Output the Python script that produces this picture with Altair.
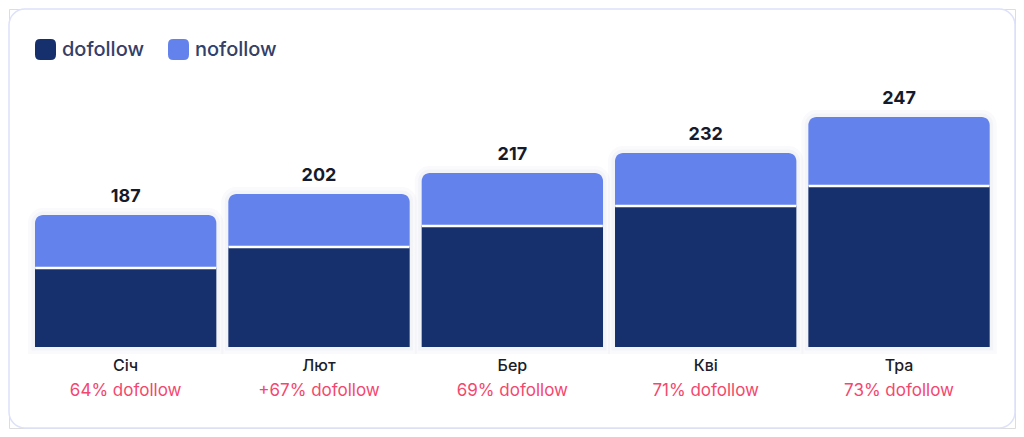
import altair as alt
import pandas as pd

# ---- data ----
months = ["Січ", "Лют", "Бер", "Кві", "Тра"]
totals = [187, 202, 217, 232, 247]
share_labels = ["64% dofollow", "+67% dofollow", "69% dofollow", "71% dofollow", "73% dofollow"]
# segment lengths as drawn (chart's own bar units)
dofollow_bar = [79, 100, 121, 141, 161]
nofollow_bar = [53, 53, 53, 53, 69]
series = ["dofollow", "nofollow"]
colors = ["#16306e", "#6482ec"]

rows = []
for m, t, s, d, n in zip(months, totals, share_labels, dofollow_bar, nofollow_bar):
    rows.append(dict(month=m, series="dofollow", start=0, end=d, total=t, share=s))
    rows.append(dict(month=m, series="nofollow", start=d, end=d + n, total=t, share=s))
df = pd.DataFrame(rows)

FONT = "Inter"
PAD = 1
W = 1008 - 2 * PAD
H = 421 - 2 * PAD
xscale = alt.Scale(domain=months, range=[29 - 8 - PAD, 995.7 - 8 - PAD], paddingInner=0.062, paddingOuter=0.031)
yscale = alt.Scale(domain=[0, 250], range=[347 - 8 - PAD, 97 - 8 - PAD], nice=False, zero=True)
X = alt.X("month:N", sort=months, scale=xscale, axis=None)

rounded = "M-0.5,-1H0.5Q1,-1 1,-0.5V0.5Q1,1 0.5,1H-0.5Q-1,1 -1,0.5V-0.5Q-1,-1 -0.5,-1Z"
color = alt.Color(
    "series:N",
    scale=alt.Scale(domain=series, range=colors),
    legend=alt.Legend(
        orient="none", legendX=27 - PAD, legendY=31 - PAD, direction="horizontal", title=None,
        symbolType=rounded, symbolSize=441, symbolStrokeWidth=0, symbolOpacity=1,
        labelFontSize=20, labelFontWeight=500, labelColor="#33406a", labelFont=FONT,
        labelOffset=6, columnPadding=24, padding=0,
    ),
)

card = alt.Chart(pd.DataFrame({"card": [1]})).mark_rect(
    fill="white", stroke="#dde1fa", strokeWidth=1.5, cornerRadius=16
).encode(x=alt.value(0), x2=alt.value(W), y=alt.value(0), y2=alt.value(H))

base = alt.Chart(df)
nof = base.transform_filter(alt.datum.series == "nofollow")
dof = base.transform_filter(alt.datum.series == "dofollow")

shadow1 = nof.mark_bar(fillOpacity=0, stroke="#2a3570", strokeOpacity=0.025, strokeWidth=14,
                       cornerRadiusTopLeft=8, cornerRadiusTopRight=8).encode(
    x=X, y=alt.Y("end:Q", scale=yscale, axis=None), y2=alt.datum(0))
shadow2 = nof.mark_bar(fillOpacity=0, stroke="#2a3570", strokeOpacity=0.03, strokeWidth=7,
                       cornerRadiusTopLeft=8, cornerRadiusTopRight=8).encode(
    x=X, y=alt.Y("end:Q", scale=yscale, axis=None), y2=alt.datum(0))

bar_n = nof.mark_bar(cornerRadiusTopLeft=8, cornerRadiusTopRight=8).encode(
    x=X, y=alt.Y("end:Q", scale=yscale, axis=None), y2="start:Q", color=color)
bar_d = dof.mark_bar().encode(
    x=X, y=alt.Y("end:Q", scale=yscale, axis=None), y2="start:Q", color=color)

sep = nof.mark_tick(color="white", thickness=2.5, size=181, opacity=1).encode(
    x=X, y=alt.Y("start:Q", scale=yscale, axis=None))

total_txt = nof.mark_text(font=FONT, fontSize=18, fontWeight=700, color="#151a2d",
                          baseline="alphabetic", dy=-13).encode(
    x=X, y=alt.Y("end:Q", scale=yscale, axis=None), text="total:Q")

month_txt = dof.mark_text(font=FONT, fontSize=16, fontWeight=500, color="#1a1d2c",
                          baseline="alphabetic", dy=24).encode(
    x=X, y=alt.datum(0), text="month:N")

share_txt = dof.mark_text(font=FONT, fontSize=17, fontWeight=400, color="#f4476e",
                          baseline="alphabetic", dy=49).encode(
    x=X, y=alt.datum(0), text="share:N")

chart = alt.layer(card, shadow1, shadow2, bar_n, bar_d, sep, total_txt, month_txt, share_txt).properties(
    width=W, height=H, padding=PAD,
    autosize=alt.AutoSizeParams(type="none"),
).configure_view(
    strokeWidth=0
).configure(font=FONT, background="white")

chart.save("out.html", embed_options={"renderer": "svg", "actions": False})
